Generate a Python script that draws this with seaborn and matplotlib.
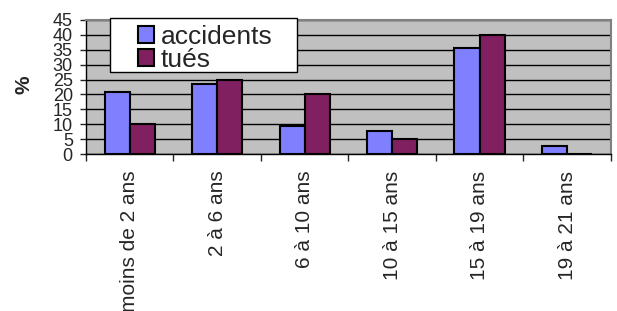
import pandas as pd
import numpy as np
import seaborn as sns
import matplotlib.pyplot as plt
from matplotlib.patches import Patch, Rectangle

categories = ['moins de 2 ans', '2 à 6 ans', '6 à 10 ans', '10 à 15 ans', '15 à 19 ans', '19 à 21 ans']
accidents = [20.8, 23.4, 9.5, 7.7, 35.7, 2.8]
tues = [10, 25, 20, 5, 40, 0]
series = ['accidents', 'tués']
colors = ['#8080FF', '#802060']

df = pd.DataFrame({
    'tranche': categories * 2,
    'pct': accidents + tues,
    'serie': ['accidents'] * len(categories) + ['tués'] * len(categories),
})

sns.set_style('white')
plt.rcParams['font.family'] = ['Liberation Sans', 'DejaVu Sans']

fig = plt.figure(figsize=(6.17, 3.11), dpi=100)
ax = fig.add_axes([0.1394, 0.5048, 0.8506, 0.4309])
ax.set_facecolor('#C0C0C0')

sns.barplot(data=df, x='tranche', y='pct', hue='serie', palette=colors,
            width=0.575, edgecolor='black', linewidth=1.5, ax=ax, legend=False,
            saturation=1)

ax.set_ylim(0, 45)
ax.set_xlim(-0.5, len(categories) - 0.5)
ax.set_yticks(range(0, 46, 5))
ax.yaxis.grid(True, color='black', linewidth=1)
ax.set_axisbelow(True)
for s in ['top', 'right']:
    ax.spines[s].set_color('#808080')
    ax.spines[s].set_linewidth(1.5)
for s in ['left', 'bottom']:
    ax.spines[s].set_color('black')
    ax.spines[s].set_linewidth(1)

ax.tick_params(axis='y', labelsize=13, length=4.5, width=1, left=True, pad=5)
ax.set_xticks(np.arange(len(categories)))
ax.set_xticklabels(categories, rotation=90, fontsize=15, va='top')
ax.set_xticks(np.arange(len(categories) + 1) - 0.5, minor=True)
ax.tick_params(axis='x', which='major', length=0, pad=12)
ax.tick_params(axis='x', which='minor', length=5, width=1, bottom=True)

ax.set_xlabel('')
ax.set_ylabel('%', fontsize=15, fontweight='bold')
ax.yaxis.set_label_coords(-0.10, 0.515)

# legend box as in the original (wide white frame)
ax.add_patch(Rectangle((0.0458, 0.612), 0.357, 0.403, transform=ax.transAxes,
                       facecolor='white', edgecolor='black', linewidth=1,
                       clip_on=False, zorder=4))
handles = [Patch(facecolor=c, edgecolor='black', linewidth=1.5) for c in colors]
leg = ax.legend(handles, series, loc='upper left', bbox_to_anchor=(0.0995, 0.963),
                fontsize=19, frameon=False,
                handlelength=0.6, handleheight=0.6, handletextpad=0.25,
                labelspacing=-0.05, borderpad=0, borderaxespad=0)
leg.set_zorder(5)

plt.savefig('out.png', dpi=100)
